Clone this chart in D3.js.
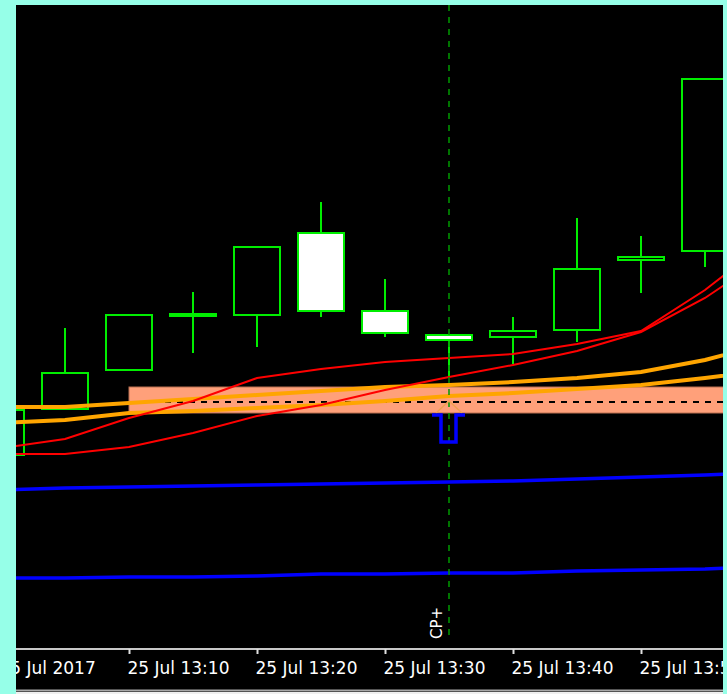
<!DOCTYPE html>
<meta charset="utf-8">
<style>
    body { margin: 0; background: #96ffe8; }
    svg { display: block; }
</style>
<svg width="727" height="694"></svg>
<script src="https://d3js.org/d3.v7.min.js"></script>
<script>
    // 5 minute bars, 25 Jul 2017
    const times  = ["13:00", "13:05", "13:10", "13:15", "13:20", "13:25", "13:30", "13:35", "13:40", "13:45", "13:50", "13:55"];
    const opens  = [1.16692, 1.16738, 1.16777, 1.16831, 1.16832, 1.16916, 1.16838, 1.16814, 1.16810, 1.16817, 1.16887, 1.16896];
    const highs  = [1.16739, 1.16820, 1.16834, 1.16856, 1.16902, 1.16946, 1.16869, 1.16814, 1.16831, 1.16930, 1.16912, 1.17070];
    const lows   = [1.16692, 1.16738, 1.16777, 1.16795, 1.16801, 1.16831, 1.16811, 1.16772, 1.16784, 1.16806, 1.16855, 1.16881];
    const closes = [1.16739, 1.16776, 1.16834, 1.16835, 1.16902, 1.16836, 1.16814, 1.16807, 1.16818, 1.16880, 1.16892, 1.17070];

    // indicator lines (last point is the running bar off the right edge)
    const lineTimes  = times.concat(["14:00"]);
    const orangeFast = [1.16741, 1.16741, 1.16745, 1.16749, 1.16753, 1.16757, 1.16761, 1.16763, 1.16766, 1.16770, 1.16776, 1.16788, 1.16805];
    const orangeSlow = [1.16725, 1.16728, 1.16735, 1.16737, 1.16740, 1.16743, 1.16747, 1.16752, 1.16755, 1.16759, 1.16763, 1.16770, 1.16778];
    const redFast    = [1.16700, 1.16709, 1.16730, 1.16747, 1.16770, 1.16779, 1.16786, 1.16790, 1.16794, 1.16804, 1.16817, 1.16858, 1.16908];
    const redSlow    = [1.16694, 1.16694, 1.16701, 1.16715, 1.16732, 1.16743, 1.16758, 1.16771, 1.16783, 1.16797, 1.16816, 1.16850, 1.16893];
    const blueUpper  = [1.16658, 1.16660, 1.16661, 1.16662, 1.16663, 1.16664, 1.16665, 1.16666, 1.16667, 1.16669, 1.16671, 1.16673, 1.16676];
    const blueLower  = [1.16570, 1.16570, 1.16571, 1.16571, 1.16572, 1.16574, 1.16574, 1.16575, 1.16575, 1.16577, 1.16578, 1.16579, 1.16582];

    const tickTimes  = ["13:00", "13:10", "13:20", "13:30", "13:40", "13:50"];
    const tickLabels = ["25 Jul 2017", "25 Jul 13:10", "25 Jul 13:20", "25 Jul 13:30", "25 Jul 13:40", "25 Jul 13:50"];

    const zoneStart = "13:10", zoneTop = 1.16761, zoneBottom = 1.16735, zoneMid = 1.16746;
    const signalTime = "13:35", signalPrice = 1.16735, signalLabel = "CP+";

    const parse = t => d3.timeParse("%Y-%m-%d %H:%M")("2017-07-25 " + t);

    var svg = d3.select("svg"),
        pLeft = 16, pTop = 5, pRight = 723, pBottom = 648;

    var x = d3.scaleTime()
        .domain([parse("13:00"), parse("14:00")])
        .range([1, 769]);
    var y = d3.scaleLinear()
        .domain([1.16500, 1.17143])
        .range([pBottom, pTop]);

    svg.append("rect").attr("x", pLeft).attr("y", pTop)
        .attr("width", pRight - pLeft).attr("height", 694 - pTop).attr("fill", "#000");

    svg.append("clipPath").attr("id", "plot")
        .append("rect").attr("x", pLeft).attr("y", pTop)
        .attr("width", pRight - pLeft).attr("height", pBottom - pTop);

    var plot = svg.append("g").attr("clip-path", "url(#plot)");

    // zone rectangle + dashed level
    plot.append("rect")
        .attr("x", x(parse(zoneStart)))
        .attr("y", y(zoneTop))
        .attr("width", 800)
        .attr("height", y(zoneBottom) - y(zoneTop))
        .attr("fill", "#ffa07a")
        .attr("stroke", "#b86e50").attr("stroke-width", 1);
    plot.append("line")
        .attr("x1", x(parse(zoneStart))).attr("x2", 800)
        .attr("y1", y(zoneMid)).attr("y2", y(zoneMid))
        .attr("stroke", "#000").attr("stroke-width", 2).attr("stroke-dasharray", "6,6");

    // candles
    var bars = times.map((t, i) => ({ t: parse(t), o: opens[i], h: highs[i], l: lows[i], c: closes[i] }));
    var green = "#00ee00";
    var candle = plot.selectAll(".candle").data(bars).enter().append("g").attr("class", "candle");
    candle.append("line")
        .attr("x1", d => x(d.t)).attr("x2", d => x(d.t))
        .attr("y1", d => y(d.h)).attr("y2", d => y(d.l))
        .attr("stroke", green).attr("stroke-width", 2);
    candle.append("rect")
        .attr("x", d => x(d.t) - 23)
        .attr("width", 46)
        .attr("y", d => y(Math.max(d.o, d.c)) + 1)
        .attr("height", d => Math.max(2, y(Math.min(d.o, d.c)) - y(Math.max(d.o, d.c)) - 2))
        .attr("fill", d => d.c >= d.o ? "#000" : "#fff")
        .attr("stroke", green).attr("stroke-width", 2);

    // indicator lines
    var line = d3.line().x((d, i) => x(parse(lineTimes[i]))).y(d => y(d));
    [[orangeSlow, "#ffa500", 4], [orangeFast, "#ffa500", 4],
     [redSlow, "#ff0000", 2], [redFast, "#ff0000", 2],
     [blueUpper, "#0000ff", 3.5], [blueLower, "#0000ff", 3.5]].forEach(s => {
        plot.append("path").datum(s[0])
            .attr("d", line)
            .attr("fill", "none")
            .attr("stroke", s[1])
            .attr("stroke-width", s[2]);
    });

    // signal: vertical line, arrow, label
    var sx = x(parse(signalTime)), sy = y(signalPrice);
    plot.append("line")
        .attr("x1", sx).attr("x2", sx).attr("y1", pTop).attr("y2", 641)
        .attr("stroke", "#009a00").attr("stroke-width", 1.5).attr("stroke-dasharray", "6,6");
    plot.append("path")
        .attr("d", `M${sx - 13},${sy} L${sx},${sy - 12} L${sx + 13},${sy}`)
        .attr("fill", "none").attr("stroke", "#f0a050").attr("stroke-width", 1.5);
    plot.append("path")
        .attr("d", `M${sx - 17},${sy + 2} L${sx - 8},${sy + 2} L${sx - 8},${sy + 29} L${sx + 7},${sy + 29} L${sx + 7},${sy + 2} L${sx + 16},${sy + 2}`)
        .attr("fill", "none").attr("stroke", "#0000ff").attr("stroke-width", 3.5);
    plot.append("text")
        .attr("transform", `translate(${sx - 7},639) rotate(-90)`)
        .attr("fill", "#fff")
        .attr("font-family", "DejaVu Sans, sans-serif")
        .attr("font-size", 15)
        .text(signalLabel);

    // time axis
    var axis = svg.append("g").attr("transform", `translate(0,${pBottom + 1})`)
        .call(d3.axisBottom(x)
            .tickValues(tickTimes.map(parse))
            .tickFormat((d, i) => tickLabels[i])
            .tickSize(5).tickSizeOuter(0));
    axis.select(".domain").remove();
    axis.insert("line", ":first-child")
        .attr("x1", pLeft).attr("x2", pRight).attr("y1", 0).attr("y2", 0)
        .attr("stroke", "#c8c8c8").attr("stroke-width", 2);
    axis.selectAll(".tick line").attr("stroke", "#e0e0e0").attr("stroke-width", 2);
    axis.selectAll(".tick text")
        .attr("fill", "#fff")
        .attr("font-family", "DejaVu Sans, sans-serif")
        .attr("font-size", 17)
        .attr("text-anchor", "start")
        .attr("x", -2).attr("y", 25).attr("dy", 0);

    svg.append("line").attr("x1", pLeft).attr("x2", pRight).attr("y1", 690.5).attr("y2", 690.5)
        .attr("stroke", "#a8a8a8").attr("stroke-width", 2);
    svg.append("rect").attr("x", pLeft).attr("y", 692).attr("width", pRight - pLeft).attr("height", 2).attr("fill", "#f0f0f0");

    // window frame
    svg.append("rect").attr("x", 0).attr("y", 0).attr("width", pLeft).attr("height", 694).attr("fill", "#96ffe8");
    svg.append("rect").attr("x", 0).attr("y", 0).attr("width", 727).attr("height", pTop).attr("fill", "#96ffe8");
    svg.append("rect").attr("x", pRight).attr("y", 0).attr("width", 727 - pRight).attr("height", 694).attr("fill", "#96ffe8");
</script>
